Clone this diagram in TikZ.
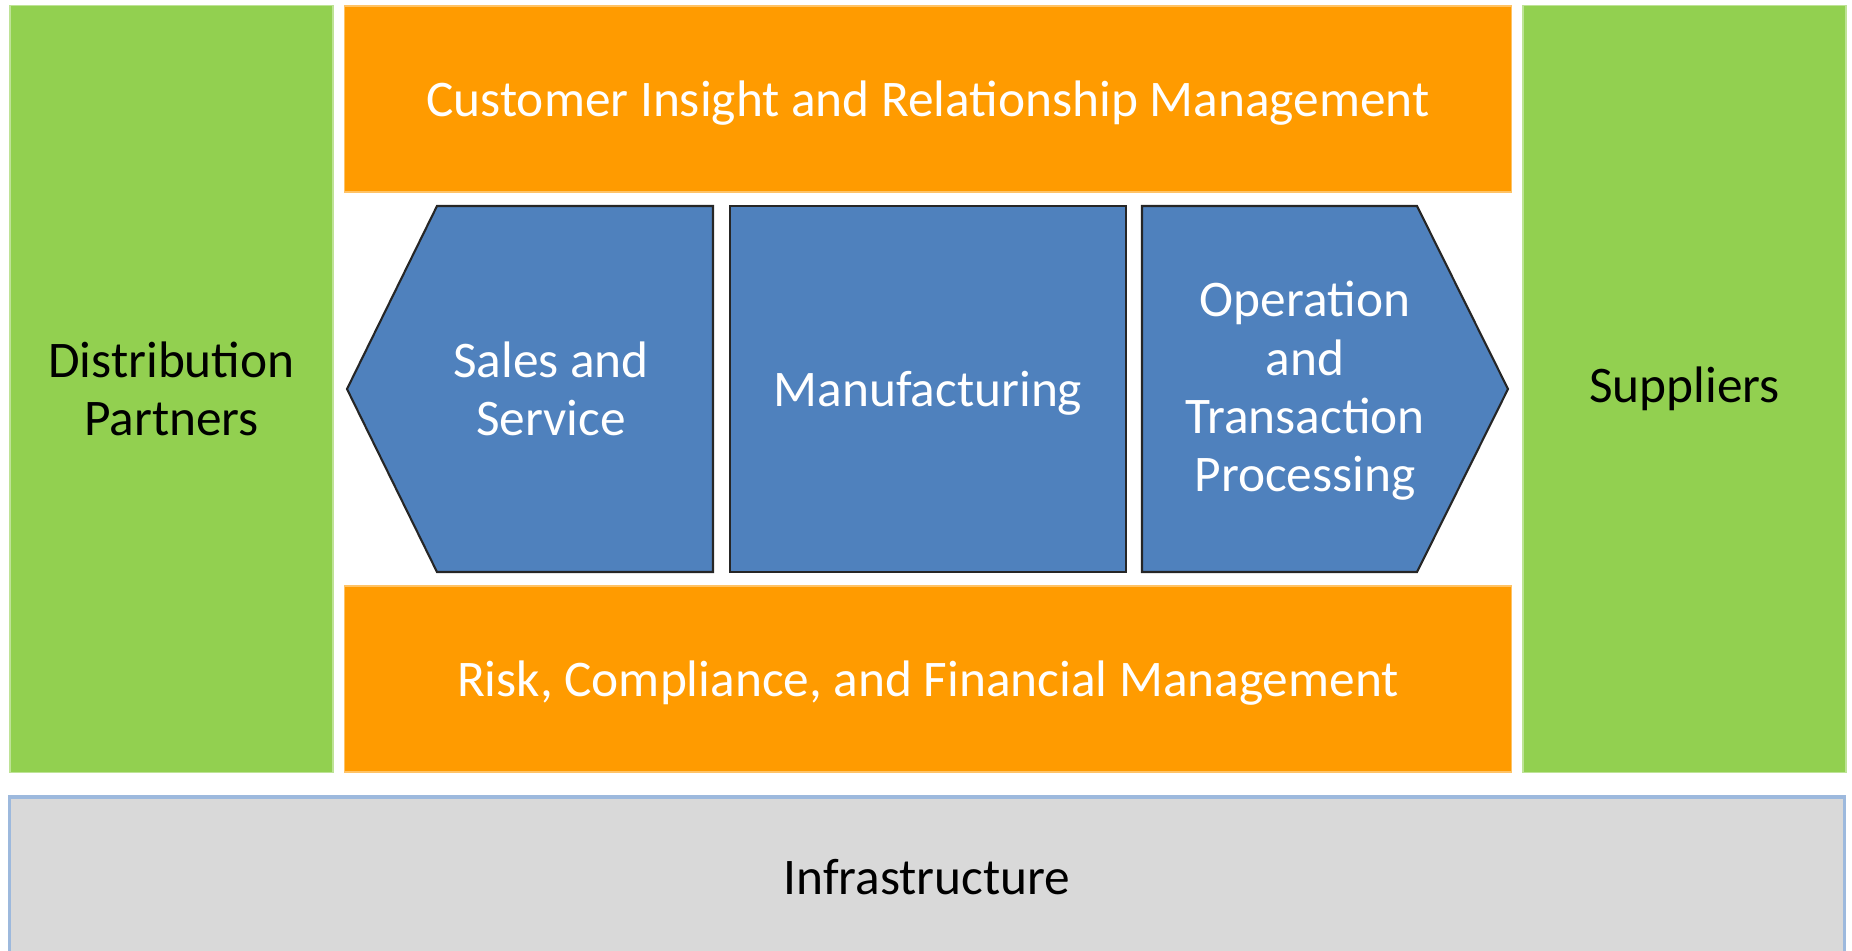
\documentclass[tikz,border=0pt]{standalone}
\usepackage{fontspec}
\setmainfont{Carlito}
\usetikzlibrary{positioning}
\definecolor{partnergreen}{HTML}{92D050}
\definecolor{mgmtorange}{HTML}{FF9B00}
\definecolor{coreblue}{HTML}{4F81BD}
\definecolor{infragray}{HTML}{D9D9D9}
\definecolor{infraedge}{HTML}{9DB9DD}
\begin{document}
\begin{tikzpicture}[x=0.01cm, y=-0.01cm,
    block/.style={rectangle, inner sep=0pt, align=center, font=\fontsize{14.6}{16.6}\selectfont},
    partner/.style={block, fill=partnergreen, draw=partnergreen!60!white, minimum width=3.23cm, minimum height=7.66cm},
    mgmt/.style={block, fill=mgmtorange, draw=mgmtorange!60!white, text=white, text depth=0pt, minimum width=11.66cm, minimum height=1.86cm},
    core/.style={fill=coreblue, draw=black!85, line width=0.6pt},
    corelabel/.style={block, text=white}
]
    \useasboundingbox (0,0) rectangle (1852,950);
    \clip (0,0) rectangle (1852,950);

    \node[partner] (distrib) at (171.5,389) {Distribution\\Partners};
    \node[partner] (suppl) at (1684.5,389) {Suppliers};
    \node[mgmt] (cust) at (928,99) {Customer Insight and Relationship Management};
    \node[mgmt] (risk) at (928,679) {Risk, Compliance, and Financial Management};
    \node[block, fill=infragray, draw=infraedge, line width=1pt, minimum width=18.34cm, minimum height=1.6cm] (infra) at (927,877) {Infrastructure};

    % core value chain
    \filldraw[core] (347,389) -- (437,206) -- (713,206) -- (713,572) -- (437,572) -- cycle;
    \node[corelabel] (sales) at (551,389) {Sales and\\Service};
    \node[block, core, text=white, text depth=0pt, minimum width=3.96cm, minimum height=3.66cm] (manuf) at (928,389) {Manufacturing};
    \filldraw[core] (1142,206) -- (1417,206) -- (1508,389) -- (1417,572) -- (1142,572) -- cycle;
    \node[corelabel] (oper) at (1305,391) {Operation\\and\\Transaction\\Processing};
\end{tikzpicture}
\end{document}
